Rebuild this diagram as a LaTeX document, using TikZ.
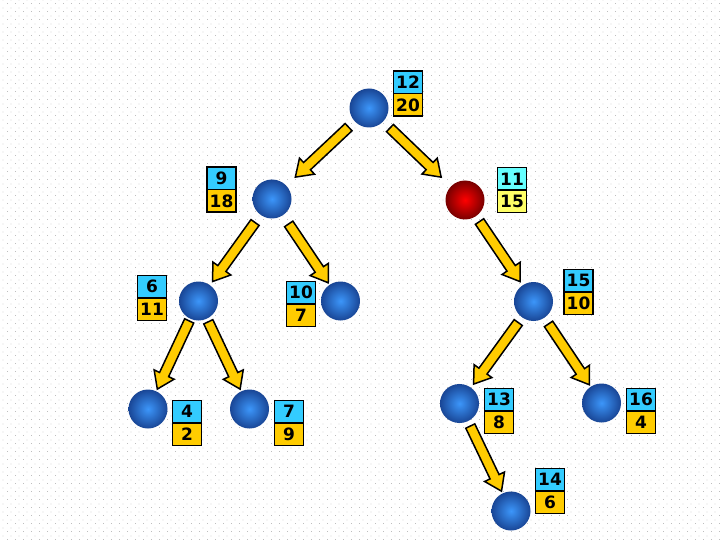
\documentclass[tikz,border=0pt]{standalone}
\usepackage{fontspec}
\setmainfont{DejaVu Sans}
\usetikzlibrary{calc,patterns}
\definecolor{ballblue}{RGB}{60,150,250}
\definecolor{balledge}{RGB}{25,70,150}
\definecolor{ballred}{RGB}{255,0,0}
\definecolor{redge}{RGB}{120,0,0}
\definecolor{boxcyan}{RGB}{51,204,255}
\definecolor{boxgold}{RGB}{255,204,0}
\definecolor{boxlcyan}{RGB}{102,255,255}
\definecolor{boxlyel}{RGB}{255,255,102}
\definecolor{arrowyel}{RGB}{255,204,0}
\definecolor{dotgray}{RGB}{190,190,190}
\pgfdeclarepatternformonly{bgdots}{\pgfpointorigin}{\pgfpoint{8pt}{8pt}}{\pgfpoint{8pt}{8pt}}{%
  \pgfpathrectangle{\pgfpoint{0pt}{0pt}}{\pgfpoint{1pt}{1pt}}%
  \pgfpathrectangle{\pgfpoint{4pt}{4pt}}{\pgfpoint{1pt}{1pt}}%
  \pgfusepath{fill}}
\tikzset{
  ball/.style={circle, minimum size=39pt, inner sep=0pt, inner color=ballblue, outer color=balledge},
  redball/.style={circle, minimum size=39pt, inner sep=0pt, inner color=ballred, outer color=redge},
  lbl/.style={draw=black, line width=1.5pt, minimum width=29pt, minimum height=22.5pt, inner sep=0pt,
    font=\fontsize{17}{17}\selectfont\bfseries},
  topbox/.style={lbl, fill=boxcyan},
  botbox/.style={lbl, fill=boxgold},
  topboxl/.style={lbl, fill=boxlcyan},
  botboxl/.style={lbl, fill=boxlyel},
  blockarrow/.style={fill=arrowyel, draw=black, line width=1.5pt, line join=miter}
}
\newcommand{\barrow}[4]{%
  \coordinate (T) at ($(#1)!#3pt!(#2)$);
  \coordinate (P) at ($(#2)!#4pt!(#1)$);
  \coordinate (H) at ($(P)!16pt!(T)$);
  \draw[blockarrow] ($(T)!5pt!90:(P)$) -- ($(H)!5pt!90:(P)$) -- ($(H)!11pt!90:(P)$) -- (P)
     -- ($(H)!11pt!-90:(P)$) -- ($(H)!5pt!-90:(P)$) -- ($(T)!5pt!-90:(P)$) -- cycle;
}
\begin{document}
\begin{tikzpicture}[x=1pt,y=-1pt]
\useasboundingbox (0,0) rectangle (720,540);
\fill[white] (0,0) rectangle (720,540);
\fill[pattern=bgdots, pattern color=dotgray] (0,0) rectangle (720,540);

% balls
\node[ball] (n12) at (369,108) {};
\node[ball] (n9) at (272,199) {};
\node[redball] (n11) at (465,200) {};
\node[ball] (n6) at (198.5,301) {};
\node[ball] (n10) at (340.5,301) {};
\node[ball] (n15) at (533.5,301.5) {};
\node[ball] (n4) at (148,409) {};
\node[ball] (n7) at (249.5,409) {};
\node[ball] (n13) at (459.5,403.5) {};
\node[ball] (n16) at (601.5,403) {};
\node[ball] (n14) at (511,511) {};

% labels
\node[topbox] (l12a) at (408,82.5) {12};
\node[botbox] (l12b) at (408,105) {20};
\node[topbox] (l9a) at (221.5,178.5) {9};
\node[botbox] (l9b) at (221.5,201) {18};
\node[topboxl] (l11a) at (512,179) {11};
\node[botboxl] (l11b) at (512,201.5) {15};
\node[topbox] (l6a) at (152,286.5) {6};
\node[botbox] (l6b) at (152,309) {11};
\node[topbox] (l10a) at (301,292.5) {10};
\node[botbox] (l10b) at (301,315) {7};
\node[topbox] (l15a) at (578.5,280.5) {15};
\node[botbox] (l15b) at (578.5,303) {10};
\node[topbox] (l4a) at (187,411.5) {4};
\node[botbox] (l4b) at (187,434) {2};
\node[topbox] (l7a) at (289,411.5) {7};
\node[botbox] (l7b) at (289,434) {9};
\node[topbox] (l13a) at (499,399.5) {13};
\node[botbox] (l13b) at (499,422) {8};
\node[topbox] (l16a) at (641,399.5) {16};
\node[botbox] (l16b) at (641,422) {4};
\node[topbox] (l14a) at (550,479.5) {14};
\node[botbox] (l14b) at (550,502) {6};

% arrows
\barrow{n12}{n9}{28}{32}
\barrow{n12}{n11}{29}{33}
\barrow{n9}{n6}{29}{24}
\barrow{n9}{n10}{30}{22}
\barrow{n6}{n4}{22}{22}
\barrow{n6}{n7}{23}{22}
\barrow{n11}{n15}{26}{24}
\barrow{n15}{n13}{26}{24}
\barrow{n15}{n16}{27}{22}
\barrow{n13}{n14}{25}{22}
\end{tikzpicture}
\end{document}
